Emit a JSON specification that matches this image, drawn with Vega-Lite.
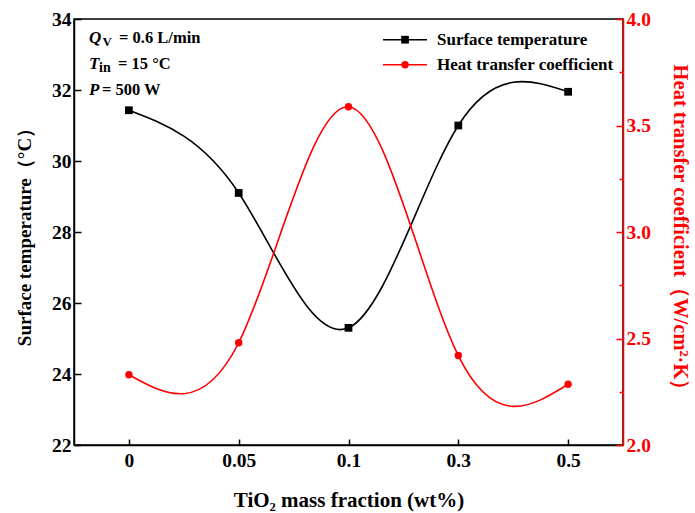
{
  "$schema": "https://vega.github.io/schema/vega-lite/v6.json",
  "width": 549,
  "height": 426,
  "padding": {"left": 74, "top": 19, "right": 72, "bottom": 68},
  "autosize": {"type": "none"},
  "background": "white",
  "config": {
    "view": {"stroke": "black", "strokeWidth": 1.5},
    "font": "Liberation Serif",
    "axis": {
      "labelFont": "Liberation Serif",
      "labelFontWeight": "bold",
      "labelFontSize": 19.5,
      "titleFont": "Liberation Serif",
      "titleFontWeight": "bold",
      "titleFontSize": 19,
      "grid": false,
      "domainWidth": 1.5,
      "tickWidth": 1.5
    }
  },
  "data": {
    "values": [
      {"idx": 0, "frac": "0", "temp": 31.43, "htc": 2.33},
      {"idx": 1, "frac": "0.05", "temp": 29.10, "htc": 2.48},
      {"idx": 2, "frac": "0.1", "temp": 25.30, "htc": 3.588},
      {"idx": 3, "frac": "0.3", "temp": 31.00, "htc": 2.42},
      {"idx": 4, "frac": "0.5", "temp": 31.95, "htc": 2.285}
    ]
  },
  "layer": [
    {
      "layer": [
        {
          "mark": {"type": "line", "interpolate": "natural", "color": "black", "strokeWidth": 1.6},
          "encoding": {
            "x": {
              "field": "idx",
              "type": "quantitative",
              "scale": {"domain": [-0.5, 4.5], "nice": false, "zero": false},
              "axis": {
                "title": "TiO₂ mass fraction (wt%)",
                "titleFontSize": 21,
                "values": [0, 1, 2, 3, 4],
                "labelExpr": "['0','0.05','0.1','0.3','0.5'][datum.value]",
                "domainColor": "black",
                "tickColor": "black",
                "tickSize": -6,
                "labelPadding": 12,
                "titlePadding": 20
              }
            },
            "y": {
              "field": "temp",
              "type": "quantitative",
              "scale": {"domain": [22, 34], "nice": false, "zero": false},
              "axis": {
                "title": "Surface temperature（°C）",
                "orient": "left",
                "values": [22, 23, 24, 25, 26, 27, 28, 29, 30, 31, 32, 33, 34],
                "labelExpr": "datum.value % 2 === 0 ? datum.label : ''",
                "tickSize": {"condition": {"test": "datum.value % 2 === 0", "value": -7}, "value": -4},
                "labelPadding": 10,
                "titlePadding": 17,
                "domainColor": "black",
                "tickColor": "black"
              }
            }
          }
        },
        {
          "mark": {"type": "point", "shape": "square", "filled": true, "color": "black", "size": 60, "opacity": 1},
          "encoding": {
            "x": {"field": "idx", "type": "quantitative"},
            "y": {"field": "temp", "type": "quantitative"}
          }
        },
        {
          "data": {"values": [{"s": "Surface temperature", "k": 1}]},
          "mark": {"type": "rule", "color": "black", "strokeWidth": 1.6},
          "encoding": {"x": {"datum": 2.314, "type": "quantitative"}, "x2": {"datum": 2.715}, "y": {"datum": 33.417, "type": "quantitative"}}
        },
        {
          "data": {"values": [{"s": "Surface temperature", "k": 1}]},
          "mark": {"type": "point", "shape": "square", "filled": true, "color": "black", "size": 60, "opacity": 1},
          "encoding": {"x": {"datum": 2.515, "type": "quantitative"}, "y": {"datum": 33.417, "type": "quantitative"}}
        },
        {
          "data": {"values": [{"s": "Surface temperature", "k": 1}]},
          "mark": {"type": "text", "align": "left", "baseline": "middle", "font": "Liberation Serif", "fontWeight": "bold", "fontSize": 17, "color": "black"},
          "encoding": {"x": {"datum": 2.806, "type": "quantitative"}, "y": {"datum": 33.417, "type": "quantitative"}, "text": {"field": "s", "type": "nominal"}}
        },
        {
          "data": {"values": [{"s": "Heat transfer coefficient", "k": 2}]},
          "mark": {"type": "rule", "color": "#FF0000", "strokeWidth": 1.6},
          "encoding": {"x": {"datum": 2.314, "type": "quantitative"}, "x2": {"datum": 2.715}, "y": {"datum": 32.713, "type": "quantitative"}}
        },
        {
          "data": {"values": [{"s": "Heat transfer coefficient", "k": 2}]},
          "mark": {"type": "point", "shape": "circle", "filled": true, "color": "#FF0000", "size": 55, "opacity": 1},
          "encoding": {"x": {"datum": 2.515, "type": "quantitative"}, "y": {"datum": 32.713, "type": "quantitative"}}
        },
        {
          "data": {"values": [{"s": "Heat transfer coefficient", "k": 2}]},
          "mark": {"type": "text", "align": "left", "baseline": "middle", "font": "Liberation Serif", "fontWeight": "bold", "fontSize": 17, "color": "black"},
          "encoding": {"x": {"datum": 2.806, "type": "quantitative"}, "y": {"datum": 32.713, "type": "quantitative"}, "text": {"field": "s", "type": "nominal"}}
        },
        {
          "data": {"values": [{"s": "Q", "k": 3}]},
          "mark": {"type": "text", "align": "left", "baseline": "middle", "font": "Liberation Serif", "fontWeight": "bold", "fontStyle": "italic", "fontSize": 17},
          "encoding": {"x": {"datum": -0.363, "type": "quantitative"}, "y": {"datum": 33.47, "type": "quantitative"}, "text": {"field": "s", "type": "nominal"}}
        },
        {
          "data": {"values": [{"s": "V", "k": 4}]},
          "mark": {"type": "text", "align": "left", "baseline": "middle", "font": "Liberation Serif", "fontWeight": "bold", "fontSize": 13, "dy": 4},
          "encoding": {"x": {"datum": -0.24, "type": "quantitative"}, "y": {"datum": 33.47, "type": "quantitative"}, "text": {"field": "s", "type": "nominal"}}
        },
        {
          "data": {"values": [{"s": "= 0.6 L/min", "k": 5}]},
          "mark": {"type": "text", "align": "left", "baseline": "middle", "font": "Liberation Serif", "fontWeight": "bold", "fontSize": 16.5},
          "encoding": {"x": {"datum": -0.09, "type": "quantitative"}, "y": {"datum": 33.47, "type": "quantitative"}, "text": {"field": "s", "type": "nominal"}}
        },
        {
          "data": {"values": [{"s": "T", "k": 6}]},
          "mark": {"type": "text", "align": "left", "baseline": "middle", "font": "Liberation Serif", "fontWeight": "bold", "fontStyle": "italic", "fontSize": 17},
          "encoding": {"x": {"datum": -0.363, "type": "quantitative"}, "y": {"datum": 32.74, "type": "quantitative"}, "text": {"field": "s", "type": "nominal"}}
        },
        {
          "data": {"values": [{"s": "in", "k": 7}]},
          "mark": {"type": "text", "align": "left", "baseline": "middle", "font": "Liberation Serif", "fontWeight": "bold", "fontSize": 14, "dy": 4},
          "encoding": {"x": {"datum": -0.272, "type": "quantitative"}, "y": {"datum": 32.74, "type": "quantitative"}, "text": {"field": "s", "type": "nominal"}}
        },
        {
          "data": {"values": [{"s": "= 15 °C", "k": 8}]},
          "mark": {"type": "text", "align": "left", "baseline": "middle", "font": "Liberation Serif", "fontWeight": "bold", "fontSize": 16.5},
          "encoding": {"x": {"datum": -0.099, "type": "quantitative"}, "y": {"datum": 32.74, "type": "quantitative"}, "text": {"field": "s", "type": "nominal"}}
        },
        {
          "data": {"values": [{"s": "P", "k": 9}]},
          "mark": {"type": "text", "align": "left", "baseline": "middle", "font": "Liberation Serif", "fontWeight": "bold", "fontStyle": "italic", "fontSize": 17},
          "encoding": {"x": {"datum": -0.363, "type": "quantitative"}, "y": {"datum": 32.01, "type": "quantitative"}, "text": {"field": "s", "type": "nominal"}}
        },
        {
          "data": {"values": [{"s": "= 500 W", "k": 10}]},
          "mark": {"type": "text", "align": "left", "baseline": "middle", "font": "Liberation Serif", "fontWeight": "bold", "fontSize": 16.5},
          "encoding": {"x": {"datum": -0.245, "type": "quantitative"}, "y": {"datum": 32.01, "type": "quantitative"}, "text": {"field": "s", "type": "nominal"}}
        }
      ]
    },
    {
      "layer": [
        {
          "mark": {"type": "line", "interpolate": "natural", "color": "#FF0000", "strokeWidth": 1.6},
          "encoding": {
            "x": {"field": "idx", "type": "quantitative"},
            "y": {
              "field": "htc",
              "type": "quantitative",
              "scale": {"domain": [2, 4], "nice": false, "zero": false},
              "axis": {
                "title": "Heat transfer coefficient（W/cm²·K）",
                "titleFontSize": 20.5,
                "orient": "right",
                "values": [2, 2.25, 2.5, 2.75, 3, 3.25, 3.5, 3.75, 4],
                "labelExpr": "(datum.value * 2) % 1 === 0 ? format(datum.value, '.1f') : ''",
                "tickSize": {"condition": {"test": "(datum.value * 2) % 1 === 0", "value": -7}, "value": -4},
                "labelPadding": 10,
                "titlePadding": 19,
                "domainColor": "#FF0000",
                "tickColor": "#FF0000",
                "labelColor": "#FF0000",
                "titleColor": "#FF0000"
              }
            }
          }
        },
        {
          "mark": {"type": "point", "shape": "circle", "filled": true, "color": "#FF0000", "size": 55, "opacity": 1},
          "encoding": {
            "x": {"field": "idx", "type": "quantitative"},
            "y": {"field": "htc", "type": "quantitative"}
          }
        }
      ]
    }
  ],
  "resolve": {"scale": {"y": "independent"}}
}
